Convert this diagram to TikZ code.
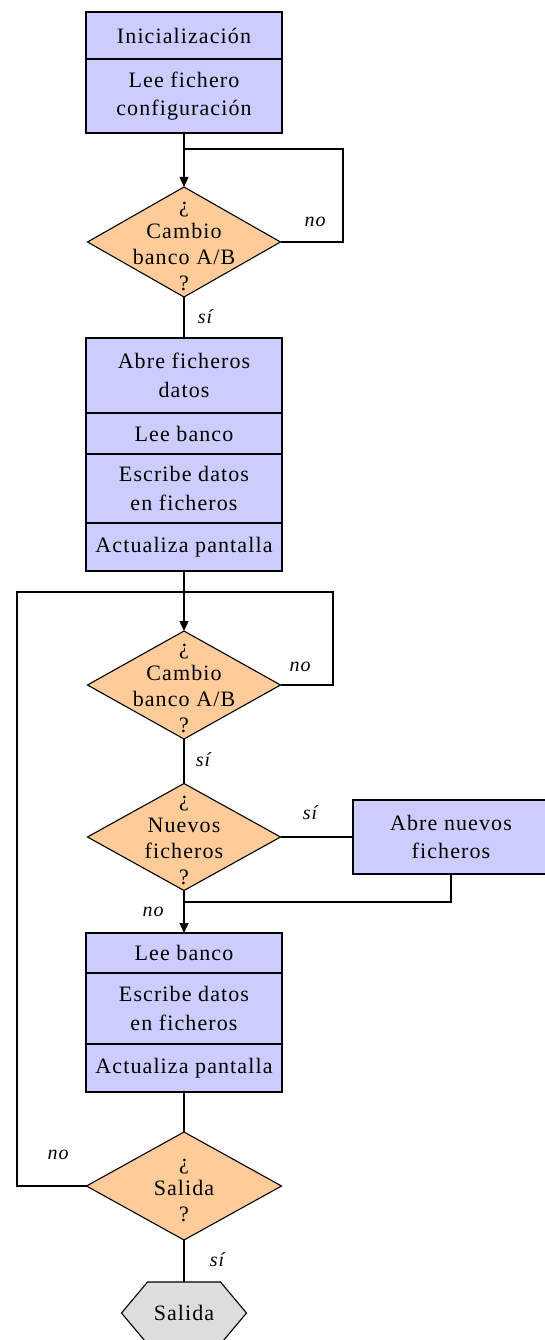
\documentclass[tikz,border=0pt]{standalone}
\usepackage{fontspec}
\setmainfont{Liberation Serif}[LetterSpace=5]
\usetikzlibrary{shapes.geometric,shapes.symbols,arrows.meta}
\definecolor{procfill}{HTML}{CCCCFF}
\definecolor{decfill}{HTML}{FFCC99}
\definecolor{endfill}{HTML}{DDDDDD}
\begin{document}
\begin{tikzpicture}[x=1pt,y=-1pt,
  every node/.style={inner sep=0pt, outer sep=0pt},
  proc/.style={draw=black, line width=1.2pt, fill=procfill, minimum width=196pt,
     align=center, font=\fontsize{22}{28.5}\selectfont},
  dec/.style={draw=black, line width=1.1pt, fill=decfill, diamond,
     minimum width=193pt, minimum height=110pt},
  dectext/.style={align=center, font=\fontsize{22}{26}\selectfont},
  term/.style={draw=black, line width=1.1pt, fill=endfill, signal, signal to=east and west,
     signal pointer angle=100, minimum width=125pt, minimum height=62pt,
     font=\fontsize{22}{24}\selectfont},
  lbl/.style={font=\fontsize{20}{22}\itshape},
  conn/.style={draw=black, line width=1.2pt},
  arr/.style={conn, -{Triangle[length=10pt,width=9pt]}}
  ]
\useasboundingbox (0,0) rectangle (545,1340);
\clip (0,0) rectangle (545,1340);

% first block
\node[proc, minimum height=47pt] (ini) at (184,35.5) {Inicialización};
\node[proc, minimum height=74pt] (conf) at (184,96) {Lee fichero\\configuración};

% decision 1
\node[dec] (d1) at (184,242) {};
\node[dectext] (d1t) at (184,246) {¿\\Cambio\\banco A/B\\?};
\coordinate (j1) at (184,149);
\coordinate (r1) at (343,242);

% second block
\node[proc, minimum height=75pt] (abre) at (184,375.5) {Abre ficheros\\datos};
\node[proc, minimum height=41pt] (lee1) at (184,433.5) {Lee banco};
\node[proc, minimum height=69pt] (esc1) at (184,488.5) {Escribe datos\\en ficheros};
\node[proc, minimum height=48pt] (act1) at (184,547) {Actualiza pantalla};

% decision 2
\node[dec, minimum height=108pt] (d2) at (184,685) {};
\node[dectext] (d2t) at (184,688) {¿\\Cambio\\banco A/B\\?};
\coordinate (j2) at (184,592);
\coordinate (r2) at (333,685);

% decision 3
\node[dec, minimum height=107pt] (d3) at (184,837) {};
\node[dectext] (d3t) at (184,840) {¿\\Nuevos\\ficheros\\?};
\node[proc, minimum height=74pt] (nuevo) at (451,837) {Abre nuevos\\ficheros};
\coordinate (j3) at (184,902);

% third block
\node[proc, minimum height=40pt] (lee2) at (184,953) {Lee banco};
\node[proc, minimum height=71pt] (esc2) at (184,1008.5) {Escribe datos\\en ficheros};
\node[proc, minimum height=48pt] (act2) at (184,1068) {Actualiza pantalla};

% decision 4
\node[dec, minimum width=195pt, minimum height=108pt] (d4) at (184,1186) {};
\node[dectext] (d4t) at (184,1190) {¿\\Salida\\?};
\coordinate (l4) at (17,1186);

% end
\node[term] (fin) at (184,1313) {Salida};

% connectors
\draw[arr] (conf.south) -- (d1.north);
\draw[conn] (d1.east) -- (r1) |- (j1);
\draw[conn] (d1.south) -- (abre.north);
\draw[arr] (act1.south) -- (d2.north);
\draw[conn] (d2.east) -- (r2) |- (j2);
\draw[conn] (d4.west) -- (l4) |- (j2);
\draw[conn] (d2.south) -- (d3.north);
\draw[conn] (d3.east) -- (nuevo.west);
\draw[conn] (nuevo.south) |- (j3);
\draw[arr] (d3.south) -- (lee2.north);
\draw[conn] (act2.south) -- (d4.north);
\draw[conn] (d4.south) -- (fin.north);

% labels
\node[lbl] (n1) at (315,222) {no};
\node[lbl] (s1) at (205,317) {sí};
\node[lbl] (n2) at (300,667) {no};
\node[lbl] (s2) at (203,760) {sí};
\node[lbl] (s3) at (310,813) {sí};
\node[lbl] (n3) at (153,912) {no};
\node[lbl] (n4) at (58,1155) {no};
\node[lbl] (s4) at (217,1260) {sí};
\end{tikzpicture}
\end{document}
